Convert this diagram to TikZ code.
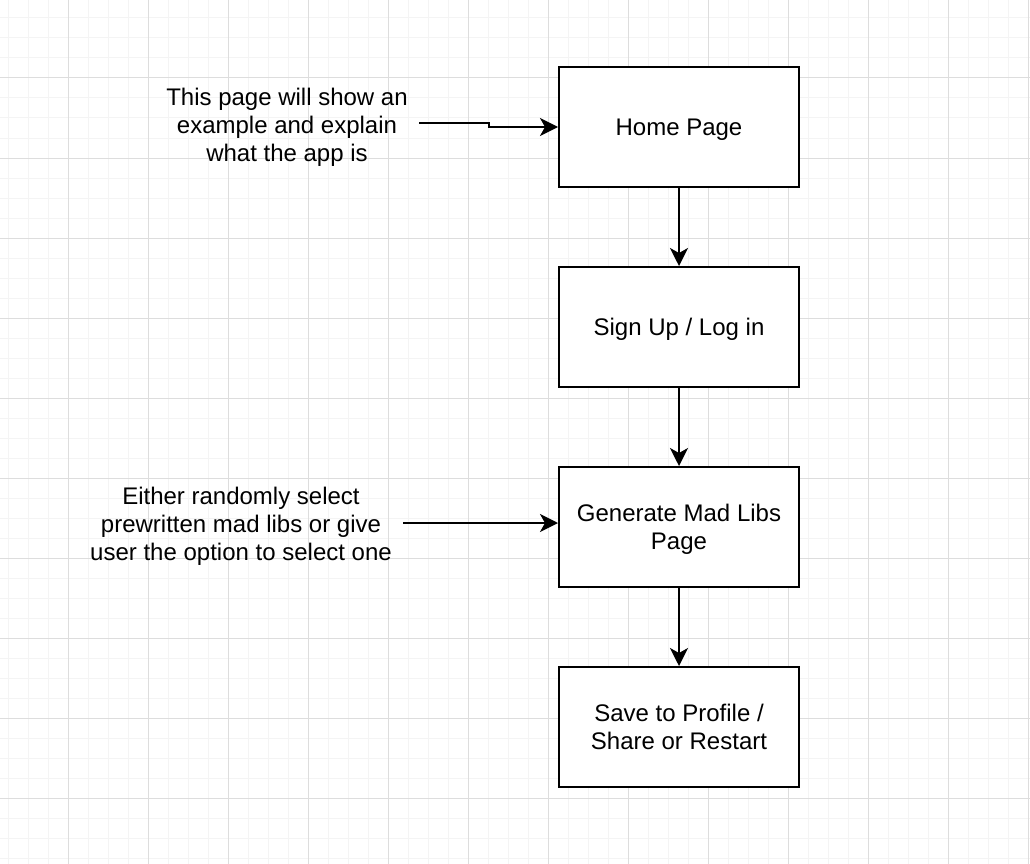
\documentclass[tikz,border=0pt]{standalone}
\usepackage{fontspec}
\setmainfont{Liberation Sans}
\usetikzlibrary{arrows.meta}
\definecolor{minorgrid}{HTML}{F4F4F4}
\definecolor{majorgrid}{HTML}{DDDDDD}
\begin{document}
\begin{tikzpicture}[x=1pt,y=-1pt,
  box/.style={draw=black,line width=2pt,fill=white,minimum width=240pt,minimum height=120pt,inner sep=0pt,align=center,text depth=0pt,font=\fontsize{24pt}{28pt}\selectfont},
  note/.style={align=center,inner sep=0pt,text depth=0pt,font=\fontsize{24pt}{28pt}\selectfont},
  conn/.style={draw=black,line width=2pt,-{Stealth[length=18pt,width=18pt,inset=5pt]}}]
\useasboundingbox (0,0) rectangle (1030,864);
\fill[white] (0,0) rectangle (1030,864);
% minor grid
\foreach \x in {8,28,...,1028} \draw[minorgrid,line width=1pt] (\x,0) -- (\x,864);
\foreach \y in {18,38,...,858} \draw[minorgrid,line width=1pt] (0,\y) -- (1030,\y);
% major grid
\foreach \x in {68,148,...,1028} \draw[majorgrid,line width=1pt] (\x,0) -- (\x,864);
\foreach \y in {78,158,...,798} \draw[majorgrid,line width=1pt] (0,\y) -- (1030,\y);

\node[box] (home) at (679,127) {Home Page};
\node[box] (sign) at (679,327) {Sign Up / Log in};
\node[box] (gen) at (679,527) {Generate Mad Libs\\Page};
\node[box] (save) at (679,727) {Save to Profile /\\Share or Restart};

\node[note] (n1) at (287,125) {This page will show an\\example and explain\\what the app is};
\node[note] (n2) at (241,524) {Either randomly select\\prewritten mad libs or give\\user the option to select one};

\coordinate (a1) at (419,123);
\coordinate (a2) at (403,523);

\draw[conn] (home) -- (sign);
\draw[conn] (sign) -- (gen);
\draw[conn] (gen) -- (save);
\draw[conn] (a1) -- (489,123) -- (489,127) -- (home.west);
\draw[conn] (a2) -- (gen.west |- a2);
\end{tikzpicture}
\end{document}
